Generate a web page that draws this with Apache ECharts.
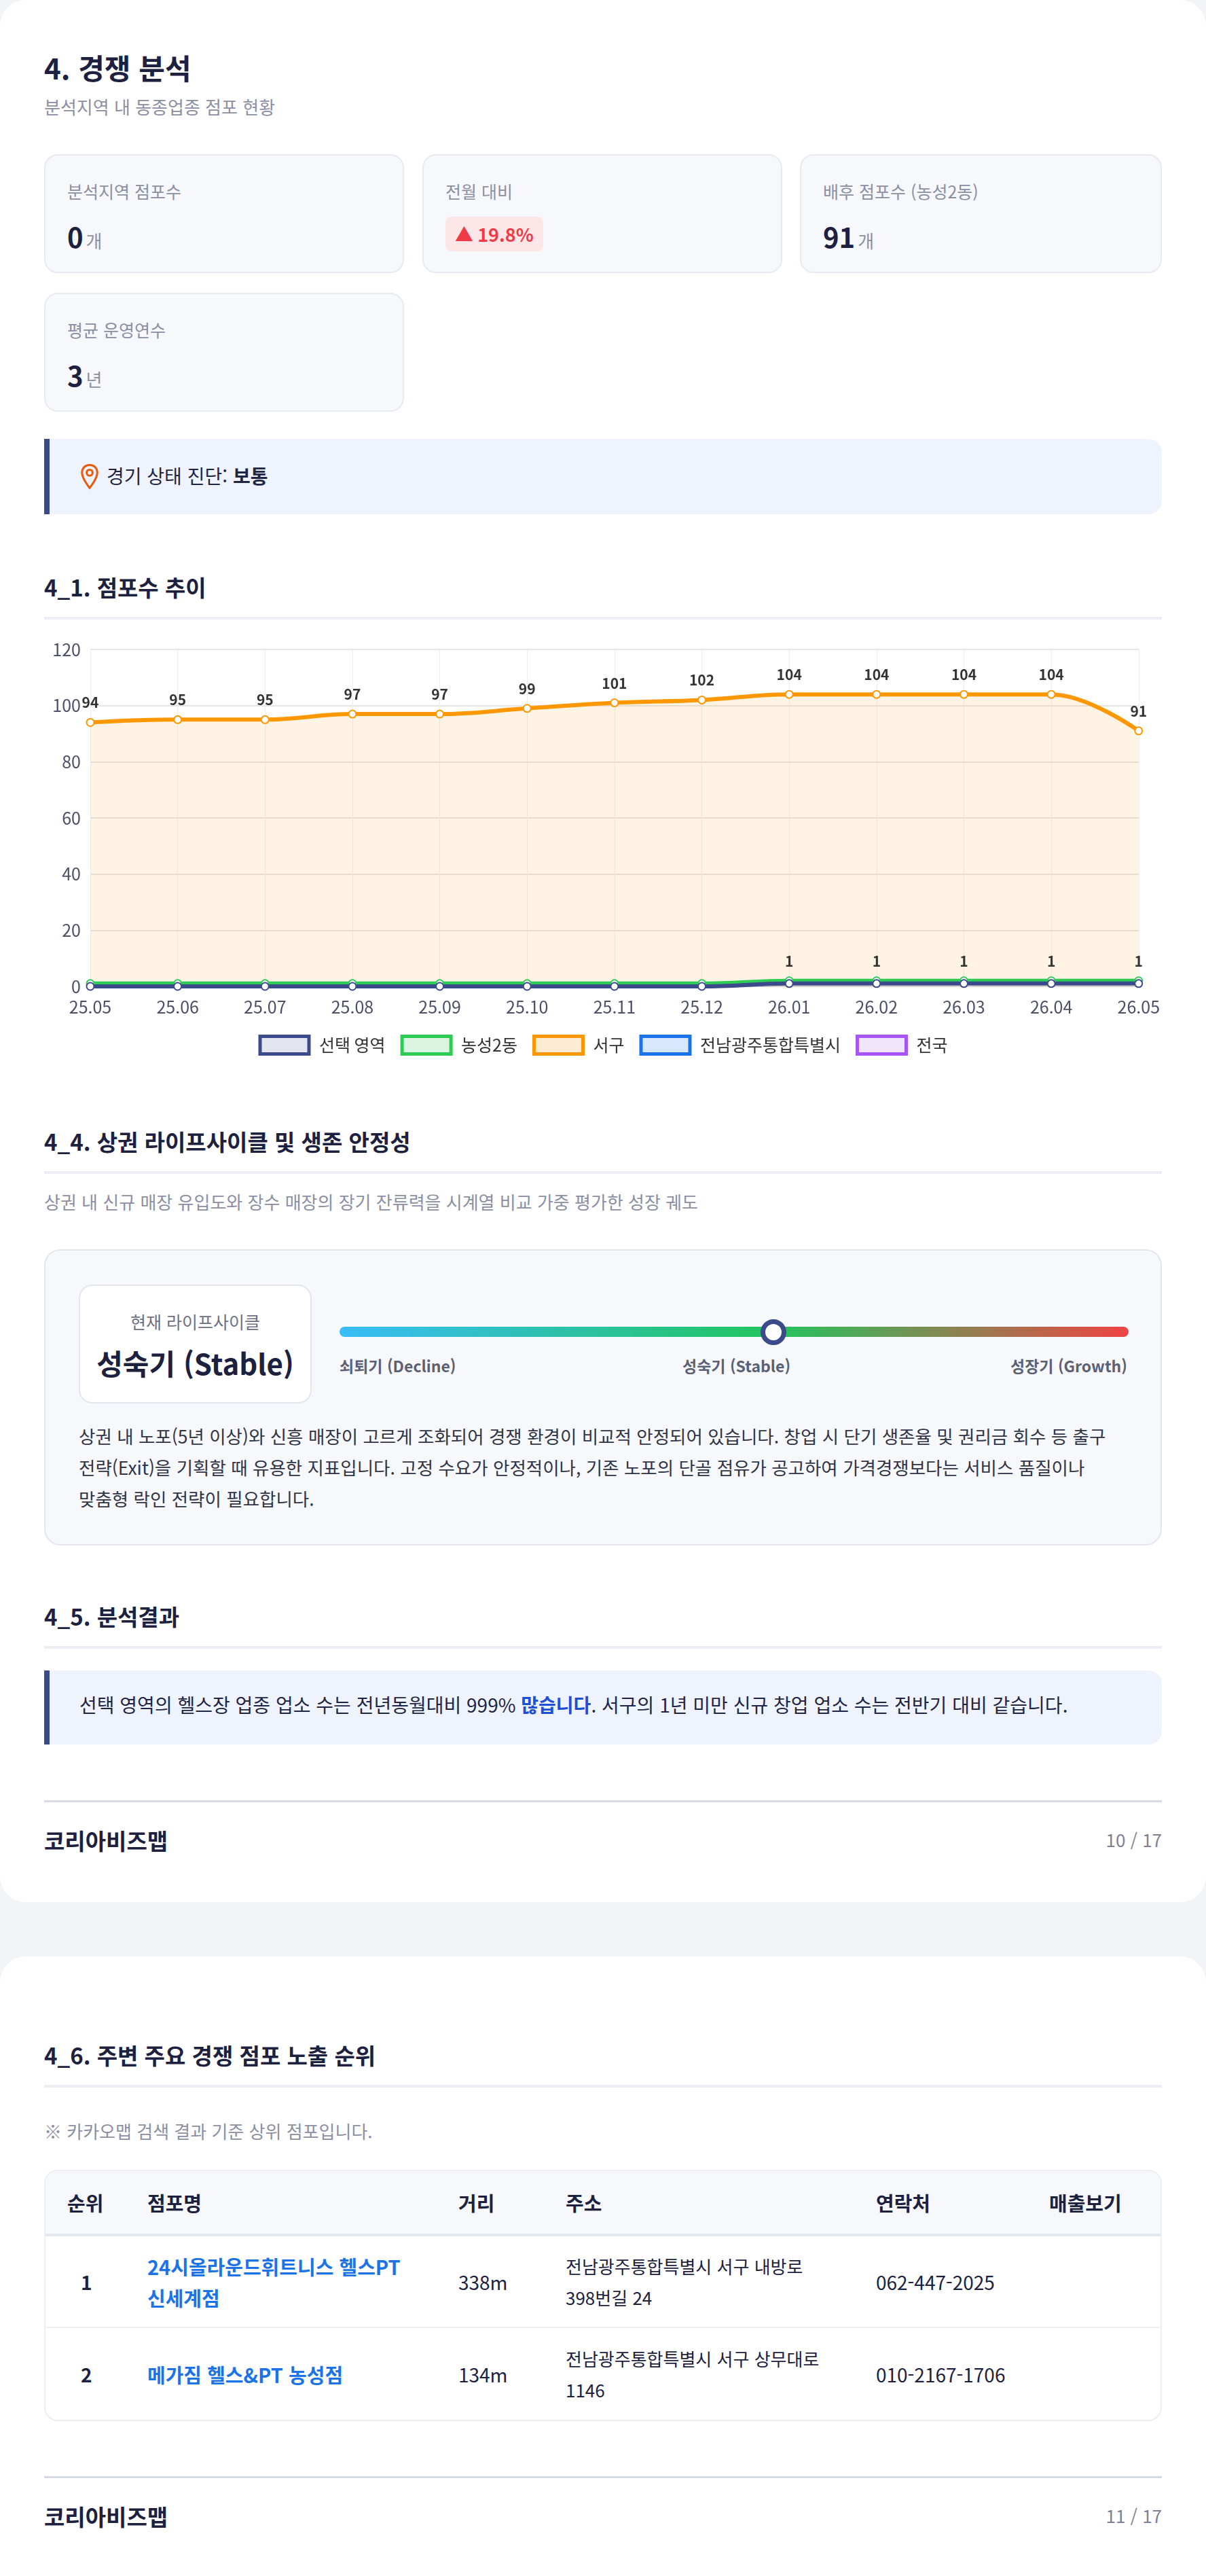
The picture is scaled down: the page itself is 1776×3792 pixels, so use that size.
<!DOCTYPE html>
<html lang="ko">
<head>
<meta charset="utf-8">
<script src="https://cdn.jsdelivr.net/npm/echarts@6/dist/echarts.min.js"></script>
<style>
  * { box-sizing: border-box; margin: 0; padding: 0; }
  body { width: 1776px; height: 3792px; background: #f3f4f8; font-family: "Noto Sans CJK KR", "Noto Sans", sans-serif; color: #1f2544; position: relative; overflow: hidden; word-break: keep-all; }
  .card { position: absolute; left: 0; width: 1776px; background: #fff; border-radius: 38px; }
  .abs { position: absolute; }
  .h1 { font-size: 42px; font-weight: 700; color: #1c2140; }
  .sub { font-size: 26px; color: #8a8fa3; }
  .stat { position: absolute; background: #f7f8fc; border: 2px solid #e8eaf2; border-radius: 20px; padding: 34px 0 0 32px; }
  .stat .lab { font-size: 25px; color: #8a8fa3; }
  .stat .val { margin-top: 20px; font-size: 40px; font-weight: 700; color: #1c2140; }
  .stat .val span { font-size: 26px; font-weight: 400; color: #8a8fa3; margin-left: 4px; }
  .badge { display: inline-block; margin-top: 20px; background: #fde6e8; color: #ef3b47; font-size: 27px; font-weight: 700; padding: 6px 14px; border-radius: 8px; }
  .note { position: absolute; left: 65px; width: 1646px; background: #eef3fd; border-left: 8px solid #3b4a8a; border-radius: 0 20px 20px 0; font-size: 28px; color: #1f2544; }
  .h2 { position: absolute; left: 65px; width: 1646px; font-size: 33px; font-weight: 700; color: #1c2140; padding-bottom: 20px; border-bottom: 4px solid #eceef3; }
  .foot { position: absolute; left: 65px; width: 1646px; border-top: 3px solid #d5dae3; }
  .foot b { position: absolute; left: 0; top: 32px; font-size: 33px; color: #1c2140; }
  .foot span { position: absolute; right: 0; top: 36px; font-size: 26px; color: #7c8195; }
  table { border-collapse: collapse; width: 100%; }
  th { text-align: left; font-size: 29px; font-weight: 700; color: #1c2140; height: 94px; background: #f7f8fb; border-bottom: 4px solid #e3e8f0; }
  td { font-size: 28px; color: #1c2140; height: 136px; border-bottom: 2px solid #eef0f4; line-height: 46px; }
  td.nm { color: #1a73e8; font-weight: 700; font-size: 29px; }
</style>
</head>
<body>
<div class="card" style="top:0;height:2800px;">
  <div class="abs h1" style="left:65px;top:68px;">4. 경쟁 분석</div>
  <div class="abs sub" style="left:65px;top:138px;">분석지역 내 동종업종 점포 현황</div>

  <div class="stat" style="left:65px;top:227px;width:530px;height:175px;"><div class="lab">분석지역 점포수</div><div class="val">0<span>개</span></div></div>
  <div class="stat" style="left:622px;top:227px;width:530px;height:175px;"><div class="lab">전월 대비</div><div class="badge">▲ 19.8%</div></div>
  <div class="stat" style="left:1178px;top:227px;width:533px;height:175px;"><div class="lab">배후 점포수 (농성2동)</div><div class="val">91<span>개</span></div></div>
  <div class="stat" style="left:65px;top:431px;width:530px;height:175px;"><div class="lab">평균 운영연수</div><div class="val">3<span>년</span></div></div>

  <div class="note" style="top:646px;height:111px;padding:34px 0 0 44px;">
    <svg width="30" height="40" viewBox="0 0 24 32" style="vertical-align:-10px;margin-right:10px"><path d="M12 2C6.5 2 3 6 3 11c0 7 9 18 9 18s9-11 9-18c0-5-3.5-9-9-9z" fill="none" stroke="#e8590c" stroke-width="2.4"/><circle cx="12" cy="11" r="3.5" fill="none" stroke="#e8590c" stroke-width="2.4"/></svg>경기 상태 진단: <b>보통</b>
  </div>

  <div class="h2" style="top:840px;">4_1. 점포수 추이</div>
  <div id="chart" class="abs" style="left:65px;top:932px;width:1646px;height:641px;"></div>

  <div class="h2" style="top:1656px;">4_4. 상권 라이프사이클 및 생존 안정성</div>
  <div class="abs sub" style="left:65px;top:1750px;">상권 내 신규 매장 유입도와 장수 매장의 장기 잔류력을 시계열 비교 가중 평가한 성장 궤도</div>

  <div class="abs" style="left:65px;top:1839px;width:1646px;height:436px;background:#f7f8fb;border:2px solid #e3e6ee;border-radius:24px;">
    <div class="abs" style="left:49px;top:50px;width:343px;height:175px;background:#fff;border:2px solid #e3e6ee;border-radius:20px;text-align:center;">
      <div style="margin-top:34px;font-size:25px;color:#6b7085;">현재 라이프사이클</div>
      <div style="margin-top:12px;font-size:42px;font-weight:700;color:#1c2140;">성숙기 (Stable)</div>
    </div>
    <div class="abs" style="left:433px;top:112px;width:1162px;height:15px;border-radius:8px;background:linear-gradient(90deg,#38bdf8,#22c55e 55%,#ef4444);"></div>
    <div class="abs" style="left:1053px;top:101px;width:38px;height:38px;border-radius:50%;background:#fff;border:7px solid #3b4a8a;"></div>
    <div class="abs" style="left:433px;top:152px;font-size:23px;font-weight:700;color:#5b6075;">쇠퇴기 (Decline)</div>
    <div class="abs" style="left:938px;top:152px;font-size:23px;font-weight:700;color:#5b6075;">성숙기 (Stable)</div>
    <div class="abs" style="right:49px;top:152px;font-size:23px;font-weight:700;color:#5b6075;">성장기 (Growth)</div>
    <div class="abs" style="left:49px;top:250px;width:1560px;font-size:26.5px;line-height:46px;color:#2f3447;">상권 내 노포(5년 이상)와 신흥 매장이 고르게 조화되어 경쟁 환경이 비교적 안정되어 있습니다. 창업 시 단기 생존율 및 권리금 회수 등 출구 전략(Exit)을 기획할 때 유용한 지표입니다. 고정 수요가 안정적이나, 기존 노포의 단골 점유가 공고하여 가격경쟁보다는 서비스 품질이나 맞춤형 락인 전략이 필요합니다.</div>
  </div>

  <div class="h2" style="top:2355px;">4_5. 분석결과</div>
  <div class="note" style="top:2459px;height:109px;padding:30px 0 0 44px;">선택 영역의 헬스장 업종 업소 수는 전년동월대비 999% <b style="color:#1d4ed8">많습니다</b>. 서구의 1년 미만 신규 창업 업소 수는 전반기 대비 같습니다.</div>

  <div class="foot" style="top:2650px;"><b>코리아비즈맵</b><span>10 / 17</span></div>
</div>

<div class="card" style="top:2880px;height:960px;">
  <div class="h2" style="top:121px;">4_6. 주변 주요 경쟁 점포 노출 순위</div>
  <div class="abs sub" style="left:65px;top:238px;">※ 카카오맵 검색 결과 기준 상위 점포입니다.</div>
  <div class="abs" style="left:65px;top:314px;width:1646px;border:2px solid #eceef3;border-radius:20px;overflow:hidden;">
    <table>
      <tr><th style="width:150px;padding-left:32px;">순위</th><th style="width:458px;">점포명</th><th style="width:158px;">거리</th><th style="width:457px;">주소</th><th style="width:255px;">연락처</th><th>매출보기</th></tr>
      <tr><td style="padding-left:52px;font-weight:700;">1</td><td class="nm">24시올라운드휘트니스 헬스PT<br>신세계점</td><td>338m</td><td style="font-size:26px;">전남광주통합특별시 서구 내방로<br>398번길 24</td><td>062-447-2025</td><td></td></tr>
      <tr><td style="padding-left:52px;font-weight:700;border-bottom:none;">2</td><td class="nm" style="border-bottom:none;">메가짐 헬스&amp;PT 농성점</td><td style="border-bottom:none;">134m</td><td style="font-size:26px;border-bottom:none;">전남광주통합특별시 서구 상무대로<br>1146</td><td style="border-bottom:none;">010-2167-1706</td><td style="border-bottom:none;"></td></tr>
    </table>
  </div>
  <div class="foot" style="top:765px;"><b>코리아비즈맵</b><span>11 / 17</span></div>
</div>

<script>
var months = ['25.05', '25.06', '25.07', '25.08', '25.09', '25.10', '25.11', '25.12', '26.01', '26.02', '26.03', '26.04', '26.05']
var selArea = [0, 0, 0, 0, 0, 0, 0, 0, 1, 1, 1, 1, 1]
var nongseong = [1, 1, 1, 1, 1, 1, 1, 1, 2, 2, 2, 2, 2]
var seogu = [94, 95, 95, 97, 97, 99, 101, 102, 104, 104, 104, 104, 91]
var gwangju = []
var national = []
var names = ['선택 영역', '농성2동', '서구', '전남광주통합특별시', '전국']
var colors = ['#3b4a8a', '#2ecc55', '#ff9800', '#1a73e8', '#a855f7']
var lights = ['#e3e6ef', '#dcf5e3', '#fdebd3', '#d7e8fd', '#f1e4fd']

var chart = echarts.init(document.getElementById('chart'))
function line(i, data, extra) {
  return Object.assign({
    name: names[i], type: 'line', data: data, smooth: 0.4,
    symbol: 'emptyCircle', symbolSize: 11,
    lineStyle: { color: colors[i], width: 6 },
    itemStyle: { color: colors[i], borderWidth: 2 }
  }, extra || {})
}
chart.setOption({
  animation: false,
  textStyle: { fontFamily: 'Noto Sans CJK KR' },
  grid: { left: 68, right: 34, top: 24, bottom: 121 },
  legend: {
    bottom: 14, itemWidth: 72, itemHeight: 26, itemGap: 22,
    textStyle: { fontSize: 25, color: '#333', padding: [0, 0, 0, 10] },
    data: names.map(function (n, i) {
      return { name: n, icon: 'rect', itemStyle: { color: lights[i], borderColor: colors[i], borderWidth: 5 } }
    })
  },
  xAxis: {
    type: 'category', data: months, boundaryGap: false,
    axisLine: { lineStyle: { color: '#ccc' } }, axisTick: { show: false },
    axisLabel: { fontSize: 25, color: '#4a5068', margin: 18 },
    splitLine: { show: true, lineStyle: { color: '#eeeeee' } }
  },
  yAxis: {
    type: 'value', min: 0, max: 120, interval: 20,
    axisLabel: { fontSize: 25, color: '#4a5068', margin: 14 },
    splitLine: { lineStyle: { color: '#e6e6e6', width: 2 } }
  },
  series: [
    line(1, nongseong),
    line(0, selArea, {
      z: 3,
      label: { show: true, position: 'top', distance: 16, fontSize: 21, fontWeight: 'bold', color: '#333',
        formatter: function (p) { return p.value ? p.value : '' } }
    }),
    line(2, seogu, {
      areaStyle: { color: 'rgba(255,152,0,0.15)' },
      label: { show: true, position: 'top', distance: 12, fontSize: 21, fontWeight: 'bold', color: '#333' }
    }),
    line(3, gwangju),
    line(4, national)
  ]
})
</script>
</body>
</html>
